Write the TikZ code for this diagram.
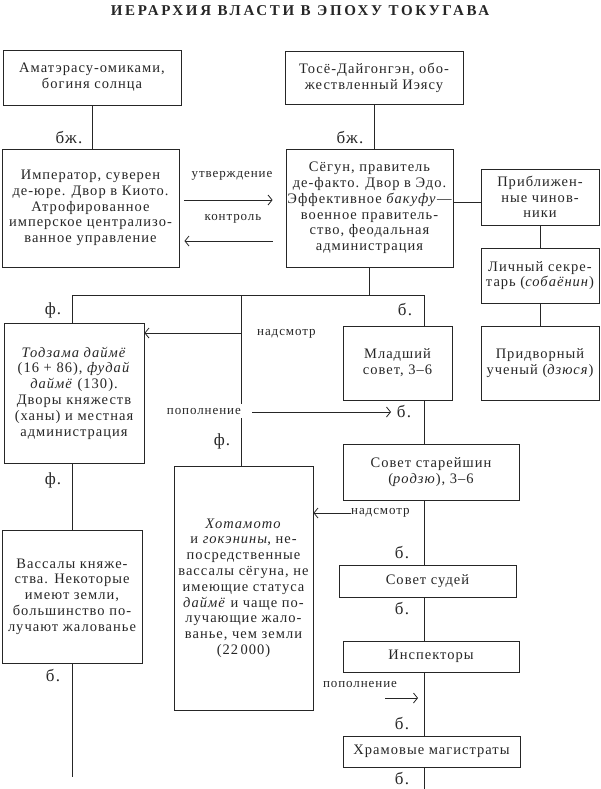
\documentclass[tikz,border=0pt]{standalone}
\usepackage{fontspec}
\setmainfont{Liberation Serif}[LetterSpace=7]
\newfontfamily\titlefont{Liberation Serif}[LetterSpace=18]
\usetikzlibrary{arrows.meta}
\definecolor{ink}{gray}{0.15}
\begin{document}
\begin{tikzpicture}[x=1pt,y=-1pt,
  every node/.style={text=ink},
  box/.style={draw=ink, line width=0.9pt, inner sep=0pt, align=center,
    font=\fontsize{14.5}{15.8}\selectfont},
  lbl/.style={inner sep=0pt, font=\fontsize{17}{18}\selectfont},
  small/.style={inner sep=0pt, font=\fontsize{13}{14}\selectfont},
  ln/.style={draw=ink, line width=0.9pt},
  arr/.style={draw=ink, line width=0.8pt, -{Straight Barb[length=4pt,width=10pt]}}]
\useasboundingbox (0,0) rectangle (600,789);
\fill[white] (0,0) rectangle (600,789);

% title
\node[inner sep=0pt, font=\titlefont\bfseries\fontsize{15}{16}\selectfont] (title) at (300,11) {ИЕРАРХИЯ ВЛАСТИ В ЭПОХУ ТОКУГАВА};

% boxes
\node[box, minimum width=178pt, minimum height=55pt] (A) at (92,77.5) {Аматэрасу-омиками,\\богиня солнца};
\node[box, minimum width=178pt, minimum height=53pt] (B) at (374,77.5) {Тосё-Дайгонгэн, обо-\\жествленный Иэясу};
\node[box, minimum width=177pt, minimum height=118pt] (emp) at (90.5,208) {Император, суверен\\де-юре. Двор в Киото.\\Атрофированное\\имперское централизо-\\ванное управление};
\node[box, minimum width=167pt, minimum height=118pt] (shog) at (369.5,208) {Сёгун, правитель\\де-факто. Двор в Эдо.\\Эффективное \textit{бакуфу}\kern0.5pt—\\военное правитель-\\ство, феодальная\\администрация};
\node[box, minimum width=118pt, minimum height=56pt] (pribl) at (540,197) {Приближен-\\ные чинов-\\ники};
\node[box, minimum width=118pt, minimum height=55pt] (lich) at (540,275.5) {Личный секре-\\тарь (\textit{собаёнин})};
\node[box, minimum width=118pt, minimum height=74pt] (pridv) at (540,363) {Придворный\\ученый (\textit{дзюся})};
\node[box, minimum width=140pt, minimum height=140pt] (todz) at (74,393) {\textit{Тодзама даймё}\\(16 + 86), \textit{фудай}\\\textit{даймё} (130).\\Дворы княжеств\\(ханы) и местная\\администрация};
\node[box, minimum width=109pt, minimum height=74pt] (mlad) at (397.5,363) {Младший\\совет, 3–6};
\node[box, minimum width=176pt, minimum height=56pt] (star) at (431,472) {Совет старейшин\\(\textit{родзю}), 3–6};
\node[box, minimum width=139pt, minimum height=244pt] (hot) at (243.5,588) {\textit{Хотамото}\\и \textit{гокэнины}, не-\\посредственные\\вассалы сёгуна, не\\имеющие статуса\\\textit{даймё} и чаще по-\\лучающие жало-\\ванье, чем земли\\(22\,000)};
\node[box, minimum width=140pt, minimum height=133pt] (vass) at (72,596.5) {Вассалы княже-\\ства. Некоторые\\имеют земли,\\большинство по-\\лучают жалованье};
\node[box, minimum width=177pt, minimum height=32pt] (sud) at (427.5,581) {Совет судей};
\node[box, minimum width=176pt, minimum height=31pt] (insp) at (431,656.5) {Инспекторы};
\node[box, minimum width=177pt, minimum height=31pt] (hram) at (431.5,751.5) {Храмовые магистраты};

% junction coordinates
\coordinate (jL) at (72,295);
\coordinate (jM) at (241,295);
\coordinate (jR) at (424,295);
\coordinate (endL) at (72,777);
\coordinate (endR) at (424,789);

% vertical connectors top
\draw[ln] (A.south) -- (A.south |- emp.north);
\draw[ln] (B.south) -- (B.south |- shog.north);
\draw[ln] (shog.east |- 0,202) -- (pribl.west |- 0,202);
\draw[ln] (pribl.south) -- (lich.north);
\draw[ln] (lich.south) -- (pridv.north);

% bus
\draw[ln] (shog.south) -- (shog.south |- jL);
\draw[ln] (todz.north -| jL) -- (jL) -- (jR) -- (mlad.north -| jR);
\draw[ln] (jM) -- (hot.north -| jM);
\draw[ln] (todz.south -| jL) -- (vass.north -| jL);
\draw[ln] (vass.south -| jL) -- (endL);
\draw[ln] (mlad.south -| jR) -- (star.north -| jR);
\draw[ln] (star.south -| jR) -- (sud.north -| jR);
\draw[ln] (sud.south -| jR) -- (insp.north -| jR);
\draw[ln] (insp.south -| jR) -- (hram.north -| jR);
\draw[ln] (hram.south -| jR) -- (endR);

% emperor / shogun arrows
\draw[arr] ([shift={(5,-8)}]emp.east) -- ([shift={(-13,-8)}]shog.west);
\draw[arr] ([shift={(-13,33)}]shog.west) -- ([shift={(5,33)}]emp.east);
\node[small] (utv) at (232,176) {утверждение};
\node[small] (kontr) at (233,219) {контроль};

% nadsmotr upper
\draw[arr] (jM |- 0,333) -- (todz.east |- 0,333);
\node[small, anchor=west] (nad1) at (257,334) {надсмотр};

% popolnenie upper
\node[small, anchor=east, fill=white, inner xsep=3pt, inner ysep=4pt] (pop1) at (244,411) {\hspace{3pt}пополнение};
\coordinate (pop1end) at (391,412);
\draw[arr] ([xshift=8pt]pop1.east |- 0,412) -- (pop1end);

% nadsmotr lower
\node[small, anchor=west] (nad2) at (351,513) {надсмотр};
\draw[arr] (nad2.west) -- (hot.east |- nad2.west);

% popolnenie lower
\node[small] (pop2) at (360,684) {пополнение};
\coordinate (pop2s) at (385,698);
\coordinate (pop2e) at (418,698);
\draw[arr] (pop2s) -- (pop2e);

% labels
\node[lbl] (bzh1) at (69,138) {бж.};
\node[lbl] (bzh2) at (350,138) {бж.};
\node[lbl] (f1) at (53,310) {ф.};
\node[lbl] (f2) at (222,441) {ф.};
\node[lbl] (f3) at (53,480) {ф.};
\node[lbl] (b0) at (53,676) {б.};
\node[lbl] (b1) at (405,310) {б.};
\node[lbl] (b2) at (404,412) {б.};
\node[lbl] (b3) at (402,553) {б.};
\node[lbl] (b4) at (402,609) {б.};
\node[lbl] (b5) at (402,724) {б.};
\node[lbl] (b6) at (402,779) {б.};
\end{tikzpicture}
\end{document}
